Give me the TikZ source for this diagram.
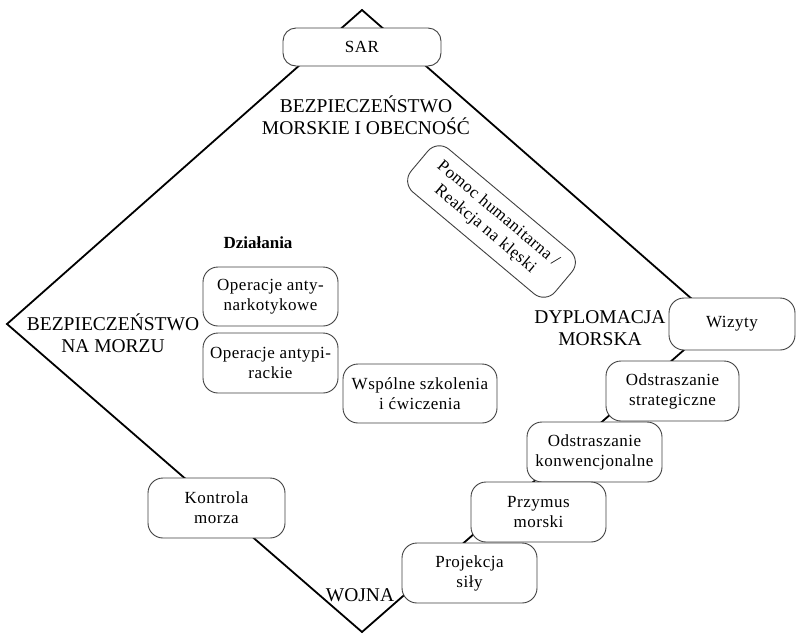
\documentclass[tikz,border=0pt]{standalone}
\usepackage{fontspec}
\setmainfont{Liberation Serif}
\begin{document}
\begin{tikzpicture}[x=1pt,y=-1pt,
  box/.style={draw=black!75, line width=0.9pt, fill=white, rounded corners=15pt,
    inner sep=0pt, align=center, font=\fontsize{17}{20}\selectfont\addfontfeature{LetterSpace=3}},
  biglabel/.style={inner sep=0pt, align=center, font=\fontsize{19.5}{22}\selectfont},
  edge/.style={draw=black, line width=1.8pt}]
\useasboundingbox (0,0) rectangle (796,633);
\coordinate (top) at (362,10);
\coordinate (lft) at (7,324);
\coordinate (bot) at (362,632);
\coordinate (rgt) at (717,321);
\draw[edge] (top) -- (rgt) -- (bot) -- (lft) -- cycle;

\node[box, minimum width=158pt, minimum height=38pt, rounded corners=13pt] (sar) at (362,47) {SAR};
\node[box, minimum width=188pt, minimum height=56pt, rotate=-40] (pomoc) at (491.5,221.5) {Pomoc humanitarna /\\Reakcja na klęski};
\node[box, minimum width=135pt, minimum height=59pt] (narko) at (270.5,296.5) {Operacje anty-\\narkotykowe};
\node[box, minimum width=135pt, minimum height=60pt] (pir) at (270.5,363) {Operacje antypi-\\rackie};
\node[box, minimum width=154pt, minimum height=59pt] (wsp) at (420,393.5) {Wspólne szkolenia\\i ćwiczenia};
\node[box, minimum width=126pt, minimum height=52pt] (wiz) at (732,324) {Wizyty};
\node[box, minimum width=133pt, minimum height=60pt] (ostrat) at (672.5,391) {Odstraszanie\\strategiczne};
\node[box, minimum width=135pt, minimum height=60pt] (okonw) at (594.5,452) {Odstraszanie\\konwencjonalne};
\node[box, minimum width=135pt, minimum height=60pt] (przym) at (538.5,512) {Przymus\\morski};
\node[box, minimum width=135pt, minimum height=60pt] (proj) at (469.5,573) {Projekcja\\siły};
\node[box, minimum width=137pt, minimum height=60pt] (kontr) at (216.5,508) {Kontrola\\morza};

\node[inner sep=0pt, font=\fontsize{17}{20}\selectfont\bfseries] (dzial) at (258,243) {Działania};
\node[biglabel] (bmo) at (366,115) {BEZPIECZEŃSTWO\\MORSKIE I OBECNOŚĆ};
\node[biglabel] (bnm) at (113,333) {BEZPIECZEŃSTWO\\NA MORZU};
\node[biglabel] (dm) at (600,328) {DYPLOMACJA\\MORSKA};
\node[biglabel] (woj) at (360,595) {WOJNA};
\end{tikzpicture}
\end{document}
